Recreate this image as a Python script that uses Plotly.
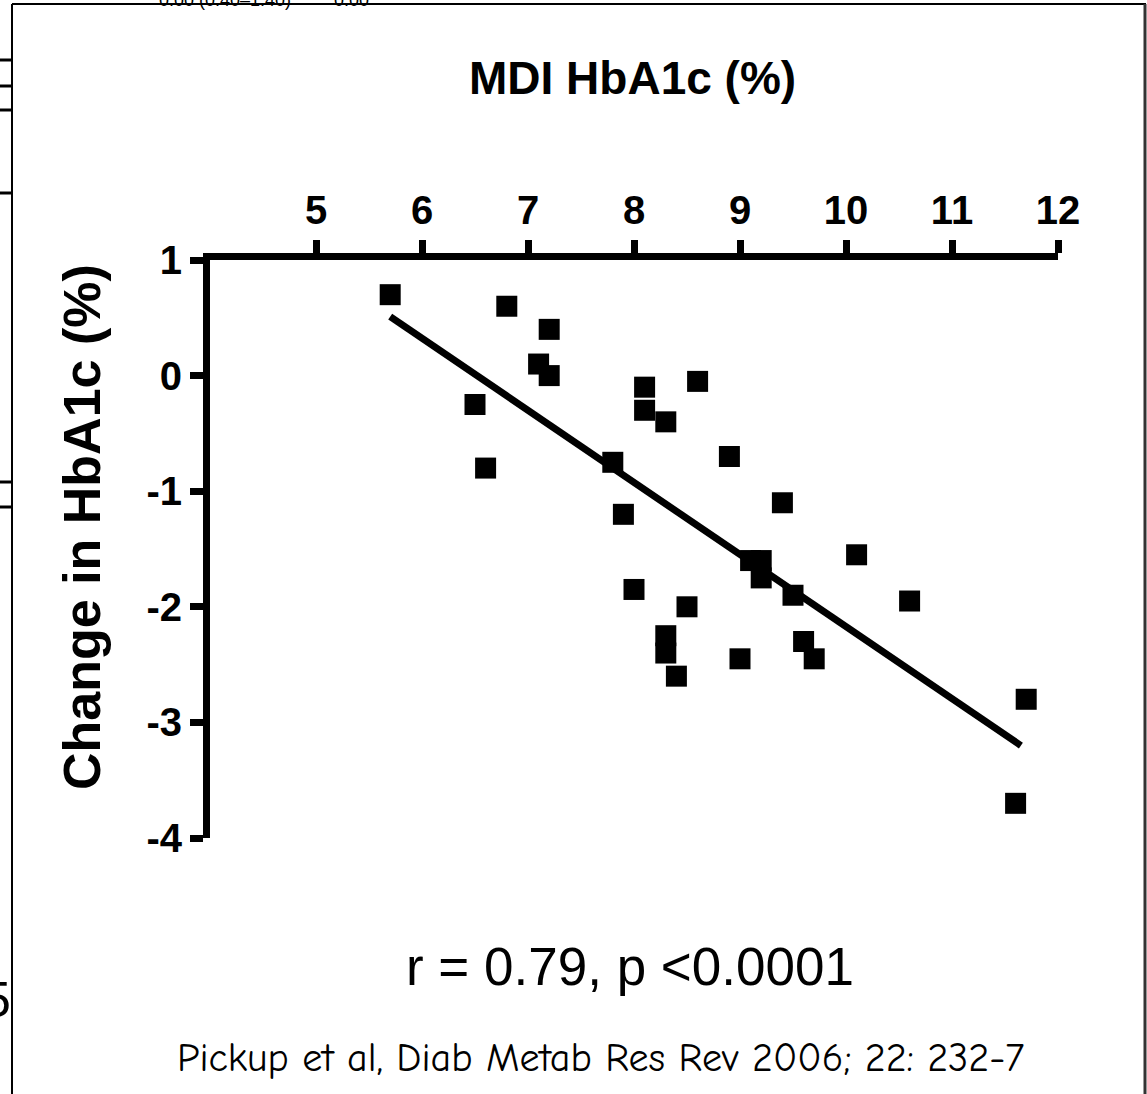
import plotly.graph_objects as go

# MDI HbA1c at baseline (%) vs change in HbA1c after switching (%)
mdi_hba1c = [5.7, 6.8, 7.2, 7.1, 7.2, 6.5, 6.6, 8.1, 8.1, 8.3, 8.6, 7.8, 8.9,
             7.9, 9.4, 8.0, 8.3, 8.3, 8.4, 8.5, 9.0, 9.1, 9.2, 9.2, 9.5, 9.6,
             9.7, 10.1, 10.6, 11.7, 11.6]
change_hba1c = [0.7, 0.6, 0.4, 0.1, 0.0, -0.25, -0.8, -0.1, -0.3, -0.4, -0.05,
                -0.75, -0.7, -1.2, -1.1, -1.85, -2.25, -2.4, -2.6, -2.0, -2.45,
                -1.6, -1.6, -1.75, -1.9, -2.3, -2.45, -1.55, -1.95, -2.8, -3.7]

# Regression line end points
fit_x = [5.7, 11.65]
fit_y = [0.51, -3.2]

x_ticks = [5, 6, 7, 8, 9, 10, 11, 12]
x_tick_labels = ["5", "6", "7", "8", "9", "10", "11", "12"]
y_ticks = [-4, -3, -2, -1, 0, 1]
y_tick_labels = ["-4", "-3", "-2", "-1", "0", "1"]

W, H = 1147, 1094
L, R, T, B = 210, 89, 260, 256
PW, PH = W - L - R, H - T - B


def px(x):
    return (x - L) / PW


def py(y):
    return 1 - (y - T) / PH


SANS = "Arial, Liberation Sans, sans-serif"

fig = go.Figure()
fig.add_trace(go.Scatter(
    x=fit_x, y=fit_y, mode="lines",
    line=dict(color="black", width=7), hoverinfo="skip", showlegend=False,
))
fig.add_trace(go.Scatter(
    x=mdi_hba1c, y=change_hba1c, mode="markers",
    marker=dict(symbol="square", size=21, color="black", line=dict(width=0)),
    showlegend=False, cliponaxis=False,
))

axis_common = dict(
    showline=True, linecolor="black", linewidth=7,
    ticks="outside", ticklen=13, tickwidth=7, tickcolor="black",
    showgrid=False, zeroline=False,
    tickfont=dict(family=SANS, size=40, color="black", weight=700),
)
fig.update_xaxes(side="top", range=[4, 12], tickvals=x_ticks,
                 ticktext=x_tick_labels, **axis_common)
fig.update_yaxes(range=[-4, 1], tickvals=y_ticks,
                 ticktext=y_tick_labels, **axis_common)

annotations = [
    dict(text="MDI HbA1c (%)", x=px(632), y=py(78),
         font=dict(family=SANS, size=46, color="black", weight=700)),
    dict(text="Change in HbA1c (%)", x=px(82), y=py(527), textangle=-90,
         font=dict(family=SANS, size=52, color="black", weight=700)),
    dict(text="r = 0.79, p <0.0001", x=px(630), y=py(966),
         font=dict(family=SANS, size=53, color="black")),
    dict(text="Pickup et al, Diab Metab Res Rev 2006; 22: 232-7",
         x=px(600), y=py(1058),
         font=dict(family="Comic Sans MS, Comic Neue, Open Sans, sans-serif",
                   size=40, color="black")),
    # clipped fragments of the surrounding slide
    dict(text="0.00 (0.40\u20131.40)", x=px(157), y=py(0), xanchor="left",
         font=dict(family=SANS, size=18, color="black")),
    dict(text="0.00", x=px(332), y=py(0), xanchor="left",
         font=dict(family=SANS, size=18, color="black")),
    dict(text="5", x=px(13), y=py(1000), xanchor="right",
         font=dict(family=SANS, size=50, color="black")),
]
for a in annotations:
    a.setdefault("xanchor", "center")
    a.update(xref="paper", yref="paper", yanchor="middle", showarrow=False)

shapes = [
    # slide frame
    dict(type="line", x0=px(12), x1=px(12), y0=py(4), y1=py(H),
         line=dict(color="black", width=2)),
    dict(type="line", x0=px(12), x1=px(1146), y0=py(4), y1=py(4),
         line=dict(color="black", width=2)),
    dict(type="line", x0=px(1145), x1=px(1145), y0=py(4), y1=py(H),
         line=dict(color="#333333", width=3)),
]
for yy in [60, 86, 110, 193, 482, 507]:
    shapes.append(dict(type="line", x0=px(0), x1=px(12), y0=py(yy), y1=py(yy),
                       line=dict(color="black", width=3)))
for s in shapes:
    s.update(xref="paper", yref="paper")

fig.update_layout(
    width=W, height=H,
    margin=dict(l=L, r=R, t=T, b=B, pad=0),
    paper_bgcolor="white", plot_bgcolor="white",
    annotations=annotations, shapes=shapes,
)

fig.write_html("out.html")
